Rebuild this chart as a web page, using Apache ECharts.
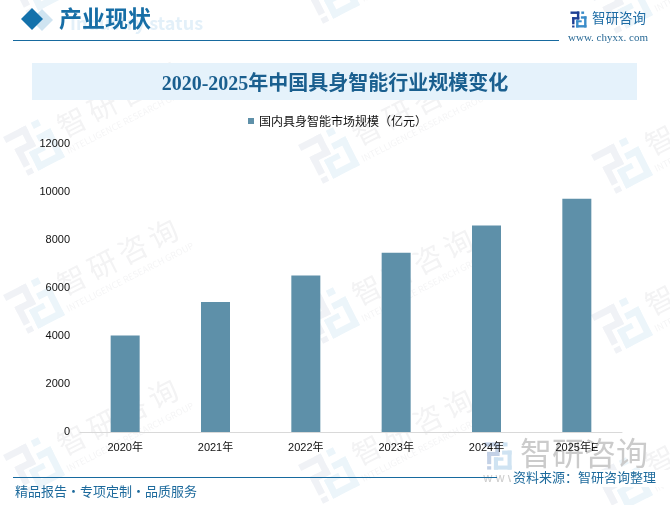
<!DOCTYPE html>
<html>
<head>
<meta charset="utf-8">
<style>html,body{margin:0;padding:0;background:#fff}#container{width:670px;height:505px}</style>
<script src="https://cdn.jsdelivr.net/npm/echarts@6/dist/echarts.min.js"></script>
</head>
<body>
<div id="container"></div>
<script>
var years = ['2020年', '2021年', '2022年', '2023年', '2024年', '2025年E'];
var marketSize = [4020, 5420, 6520, 7470, 8600, 9720];
var seriesName = '国内具身智能市场规模（亿元）';
var chartTitle = '2020-2025年中国具身智能行业规模变化';

var serif = '"Liberation Serif","Noto Sans CJK SC",serif';
var sans = '"Noto Sans CJK SC",sans-serif';
var markRotation = 27 * Math.PI / 180;
var markColumns = [
    {x: 72, rows: [-38, 122, 280, 440]},
    {x: 367, rows: [-30, 130, 290, 450]},
    {x: 660, rows: [-20, 140, 300, 460]}
];

var myChart = echarts.init(document.getElementById('container'), null, {renderer: 'canvas'});

var graphics = [];

// logo 由几块矩形拼成，box 是 40x40
function addLogo(cx, cy, scale, rotation, colorL, colorR, z) {
    var left = [[0, 0, 22, 6], [16, 0, 6, 20], [4, 14, 18, 6], [4, 14, 6, 18], [4, 35, 6, 5]];
    var right = [[27, 0, 7, 6], [26, 12, 14, 6], [34, 12, 6, 28], [14, 34, 26, 6], [14, 22, 6, 18], [14, 22, 14, 5]];
    function rects(list, color) {
        return list.map(function (r) {
            return {
                type: 'rect',
                z: z,
                shape: {x: r[0] - 20, y: r[1] - 20, width: r[2], height: r[3]},
                style: {fill: color}
            };
        });
    }
    graphics.push({
        type: 'group',
        x: cx,
        y: cy,
        scaleX: scale,
        scaleY: scale,
        rotation: rotation,
        children: rects(left, colorL).concat(rects(right, colorR))
    });
}

// 水印
markColumns.forEach(function (col) {
    col.rows.forEach(function (y) {
        addLogo(col.x - 38, y + 25, 1.15, markRotation, '#f0f2f6', '#ecf5fa', 0);
        '智研咨询'.split('').forEach(function (ch, i) {
            graphics.push({
                type: 'text',
                z: 0,
                x: col.x + i * 34 * Math.cos(markRotation),
                y: y - i * 34 * Math.sin(markRotation),
                rotation: markRotation,
                style: {text: ch, font: '29px ' + sans, fill: '#f3f3f4', align: 'center', verticalAlign: 'middle'}
            });
        });
        graphics.push({
            type: 'text',
            z: 0,
            x: col.x + 58,
            y: y - 3,
            rotation: markRotation,
            style: {text: 'INTELLIGENCE RESEARCH GROUP', font: '9px ' + sans, fill: '#f5f5f6', align: 'center', verticalAlign: 'middle'}
        });
    });
});

// 顶部
graphics.push(
    {type: 'rect', z: 1, shape: {x: 32, y: 63, width: 605, height: 37}, style: {fill: '#e5f2fb'}},
    {type: 'polygon', z: 2, shape: {points: [[42, 9], [53, 20], [42, 31], [31, 20]]}, style: {fill: '#cfe4f1'}},
    {type: 'polygon', z: 2, shape: {points: [[32, 8], [43, 19], [32, 30], [21, 19]]}, style: {fill: '#1371ab'}},
    {type: 'text', z: 2, x: 70, y: 14, style: {text: 'Industry status', font: 'bold 18px ' + sans, fill: '#e3f0f9'}},
    {type: 'text', z: 3, x: 59, y: 10, style: {text: '产业现状', font: 'bold 23px ' + serif, fill: '#176ea6'}},
    {type: 'line', z: 2, shape: {x1: 13, y1: 40.5, x2: 559, y2: 40.5}, style: {stroke: '#176a9f', lineWidth: 1}},
    {type: 'text', z: 3, x: 592, y: 11, style: {text: '智研咨询', font: '13.5px ' + sans, fill: '#1e6ca5'}},
    {type: 'text', z: 3, x: 568, y: 33, style: {text: 'www. chyxx. com', font: '11px "Liberation Serif",serif', fill: '#2a6a96'}}
);
addLogo(578.5, 19.5, 0.4, 0, '#1d3f94', '#3a8cc9', 3);

// 底部
graphics.push(
    {type: 'text', z: 1, x: 483, y: 471, style: {text: 'w w w . c h y x x', font: '12px ' + sans, fill: '#cdcdcd'}},
    {type: 'rect', z: 2, shape: {x: 511, y: 470, width: 159, height: 17}, style: {fill: '#fff'}},
    {type: 'line', z: 2, shape: {x1: 13, y1: 477.5, x2: 497, y2: 477.5}, style: {stroke: '#176a9f', lineWidth: 1}},
    {type: 'text', z: 3, x: 15, y: 485, style: {text: '精品报告·专项定制·品质服务', font: '13px ' + sans, fill: '#1d6a9c'}},
    {type: 'text', z: 3, x: 513, y: 471, style: {text: '资料来源：智研咨询整理', font: '13px ' + sans, fill: '#1d6a9c'}},
    {type: 'text', z: 1, x: 520, y: 437, style: {text: '智研咨询', font: '32px ' + sans, fill: '#cbcbcb'}}
);
addLogo(498, 456, 0.68, 0, '#c3d1e6', '#cfe3f2', 1);

var option = {
    animation: false,
    backgroundColor: '#fff',
    title: {
        text: chartTitle,
        left: 'center',
        top: 70,
        z: 6,
        textStyle: {fontFamily: serif, fontSize: 20, fontWeight: 'bold', color: '#1a5f8f'}
    },
    legend: {
        data: [seriesName],
        icon: 'rect',
        top: 110,
        left: 243,
        itemWidth: 6,
        itemHeight: 6,
        itemGap: 2,
        z: 6,
        textStyle: {fontFamily: sans, fontSize: 12, color: '#111'}
    },
    grid: {left: 80, right: 48, top: 144, bottom: 73},
    xAxis: {
        type: 'category',
        data: years,
        z: 6,
        axisLine: {lineStyle: {color: '#d9d9d9'}},
        axisTick: {show: false},
        axisLabel: {color: '#111', fontSize: 11, fontFamily: 'Liberation Sans,' + sans, margin: 10}
    },
    yAxis: {
        type: 'value',
        min: 0,
        max: 12000,
        interval: 2000,
        z: 6,
        axisLine: {show: false},
        axisTick: {show: false},
        splitLine: {show: false},
        axisLabel: {
            color: '#111',
            fontSize: 11,
            fontFamily: 'Liberation Sans,sans-serif',
            margin: 10,
            formatter: function (v) { return String(v); }
        }
    },
    series: [
        {
            name: seriesName,
            type: 'bar',
            barWidth: 29,
            z: 2,
            itemStyle: {color: '#5e90a9'},
            data: marketSize
        }
    ],
    graphic: graphics
};
myChart.setOption(option, true);
</script>
</body>
</html>
